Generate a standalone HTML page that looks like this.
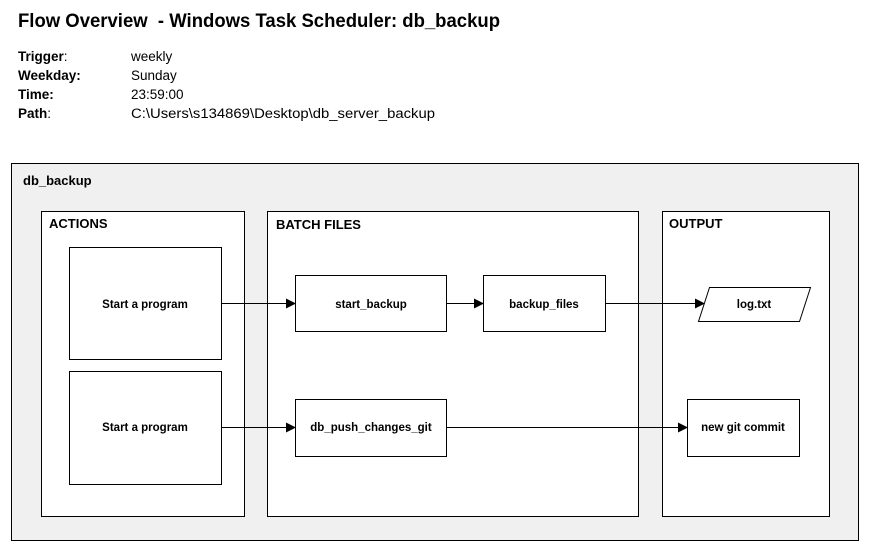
<!DOCTYPE html>
<html><head><meta charset="utf-8"><style>
html,body{margin:0;padding:0;background:#fff;}
svg{display:block;font-family:"Liberation Sans",sans-serif;}
</style></head><body>
<svg width="873" height="555" viewBox="0 0 873 555" xmlns="http://www.w3.org/2000/svg">
<defs><marker id="a" markerWidth="10" markerHeight="10" refX="9" refY="5" orient="auto" markerUnits="userSpaceOnUse"><path d="M0,0 L10,5 L0,10 z" fill="#000"/></marker></defs>
<text x="18" y="27" font-size="19" font-weight="bold" fill="#000" textLength="482" lengthAdjust="spacingAndGlyphs" xml:space="preserve">Flow Overview  - Windows Task Scheduler: db_backup</text>
<g font-size="13.5" fill="#000">
<text x="18" y="61" font-weight="bold">Trigger<tspan font-weight="normal">:</tspan></text><text x="131" y="61">weekly</text>
<text x="18" y="80" font-weight="bold">Weekday:</text><text x="131" y="80">Sunday</text>
<text x="18" y="99" font-weight="bold">Time:</text><text x="131" y="99">23:59:00</text>
<text x="18" y="118" font-weight="bold">Path<tspan font-weight="normal">:</tspan></text><text x="131" y="118" textLength="304" lengthAdjust="spacingAndGlyphs">C:\Users\s134869\Desktop\db_server_backup</text>
</g>
<rect x="11.5" y="163.5" width="847" height="377" fill="#f0f0f0" stroke="#000"/>
<text x="23" y="185" font-size="13" font-weight="bold">db_backup</text>
<rect x="41.5" y="211.5" width="203" height="305" fill="#fff" stroke="#000"/>
<rect x="267.5" y="211.5" width="371" height="305" fill="#fff" stroke="#000"/>
<rect x="662.5" y="211.5" width="167" height="305" fill="#fff" stroke="#000"/>
<g font-size="13" font-weight="bold">
<text x="49" y="228">ACTIONS</text>
<text x="276" y="229">BATCH FILES</text>
<text x="669" y="228">OUTPUT</text>
</g>
<g fill="#fff" stroke="#000">
<rect x="69.5" y="247.5" width="152" height="112"/>
<rect x="69.5" y="371.5" width="152" height="113"/>
<rect x="295.5" y="275.5" width="151" height="56"/>
<rect x="483.5" y="275.5" width="122" height="56"/>
<rect x="295.5" y="399.5" width="151" height="57"/>
<rect x="687.5" y="399.5" width="112" height="57"/>
<path d="M709.5,287.5 L810.5,287.5 L799.5,321.5 L698.5,321.5 Z"/>
</g>
<g stroke="#000" stroke-width="1" marker-end="url(#a)">
<line x1="221" y1="303.5" x2="295" y2="303.5"/>
<line x1="446" y1="303.5" x2="483" y2="303.5"/>
<line x1="605" y1="303.5" x2="704" y2="303.5"/>
<line x1="221" y1="427.5" x2="295" y2="427.5"/>
<line x1="446" y1="427.5" x2="687" y2="427.5"/>
</g>
<g font-size="11.5" font-weight="bold" text-anchor="middle">
<text x="145" y="308">Start a program</text>
<text x="145" y="431">Start a program</text>
<text x="371" y="308">start_backup</text>
<text x="544" y="308">backup_files</text>
<text x="371" y="431">db_push_changes_git</text>
<text x="743" y="431">new git commit</text>
<text x="754" y="308">log.txt</text>
</g>
</svg>
</body></html>
